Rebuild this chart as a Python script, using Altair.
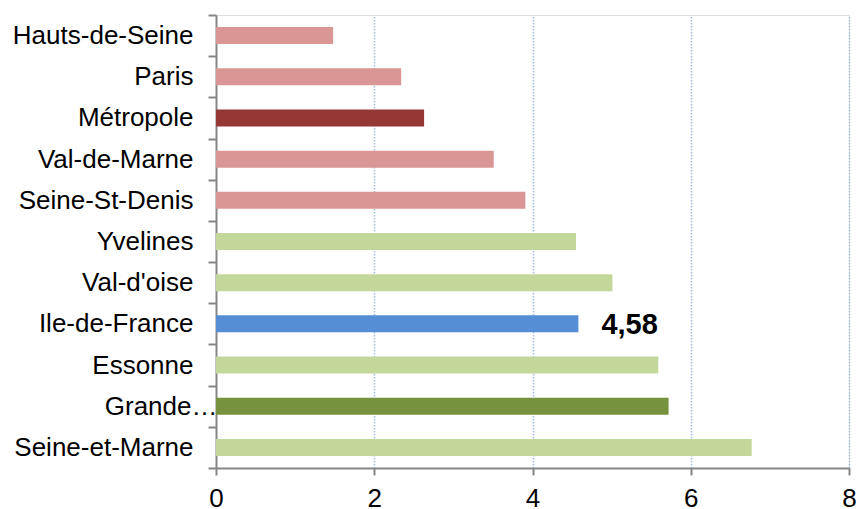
import altair as alt
import pandas as pd

# Départements / territoires, top to bottom
territoires = [
    "Hauts-de-Seine", "Paris\u00a0", "Métropole", "Val-de-Marne", "Seine-St-Denis",
    "Yvelines", "Val-d'oise", "Ile-de-France", "Essonne", "Grande…", "Seine-et-Marne",
]
valeurs = [1.48, 2.34, 2.63, 3.51, 3.91, 4.55, 5.01, 4.58, 5.59, 5.72, 6.77]
groupes = [
    "petite", "petite", "metropole", "petite", "petite",
    "grande", "grande", "idf", "grande", "grande_total", "grande",
]

groupe_domaine = ["petite", "metropole", "grande", "grande_total", "idf"]
groupe_couleurs = ["#DA9694", "#953735", "#C4D79B", "#76923C", "#558ED5"]

df = pd.DataFrame({"territoire": territoires, "valeur": valeurs, "groupe": groupes})

FONT = "Liberation Sans"
AXIS_GREY = "#868686"

y_enc = alt.Y(
    "territoire:N",
    sort=territoires,
    title=None,
    scale=alt.Scale(paddingInner=0, paddingOuter=0),
    axis=alt.Axis(
        tickBand="extent",
        domainColor=AXIS_GREY,
        domainWidth=2,
        tickColor=AXIS_GREY,
        tickWidth=2,
        tickSize=8,
        labelPadding={"condition": {"test": "datum.value === 'Grande…'", "value": -9}, "value": 15},
        labelFont=FONT,
        labelFontSize=26,
        labelColor="#000000",
        labelLimit=400,
        grid=False,
    ),
)

bars = alt.Chart(df).mark_bar(height=17).encode(
    x=alt.X(
        "valeur:Q",
        title=None,
        scale=alt.Scale(domain=[0, 8], nice=False),
        axis=alt.Axis(
            values=[0, 2, 4, 6, 8],
            format="d",
            labelFlush=False,
            domainColor=AXIS_GREY,
            domainWidth=2,
            tickColor=AXIS_GREY,
            tickWidth=2,
            tickSize=7,
            labelPadding=10,
            labelFont=FONT,
            labelFontSize=26,
            labelColor="#000000",
            grid=True,
            gridColor="#A3BCE6",
            gridWidth=1.5,
            gridDash=[1.5, 1.5],
            gridOpacity={"condition": {"test": "datum.value === 0", "value": 0}, "value": 1},
        ),
    ),
    y=y_enc,
    color=alt.Color(
        "groupe:N",
        scale=alt.Scale(domain=groupe_domaine, range=groupe_couleurs),
        legend=None,
    ),
)

label = alt.Chart(df).transform_filter(
    alt.datum.territoire == "Ile-de-France"
).mark_text(
    align="left", baseline="middle", dx=23, dy=1,
    font=FONT, fontSize=29, fontWeight="bold", color="#000000",
).encode(
    x="valeur:Q",
    y=alt.Y("territoire:N", sort=territoires),
    text=alt.Text("valeur:Q", format=",.2f"),
)

chart = alt.layer(bars, label).properties(
    width=633,
    height=453,
    autosize=alt.AutoSizeParams(type="none"),
    padding={"left": 216, "top": 15, "right": 10, "bottom": 41},
).configure_view(stroke=None).configure(
    locale={"number": {"decimal": ",", "thousands": "\u00a0", "grouping": [3], "currency": ["", " €"]}}
)

chart.save("out.html", embed_options={"renderer": "svg", "actions": False})
